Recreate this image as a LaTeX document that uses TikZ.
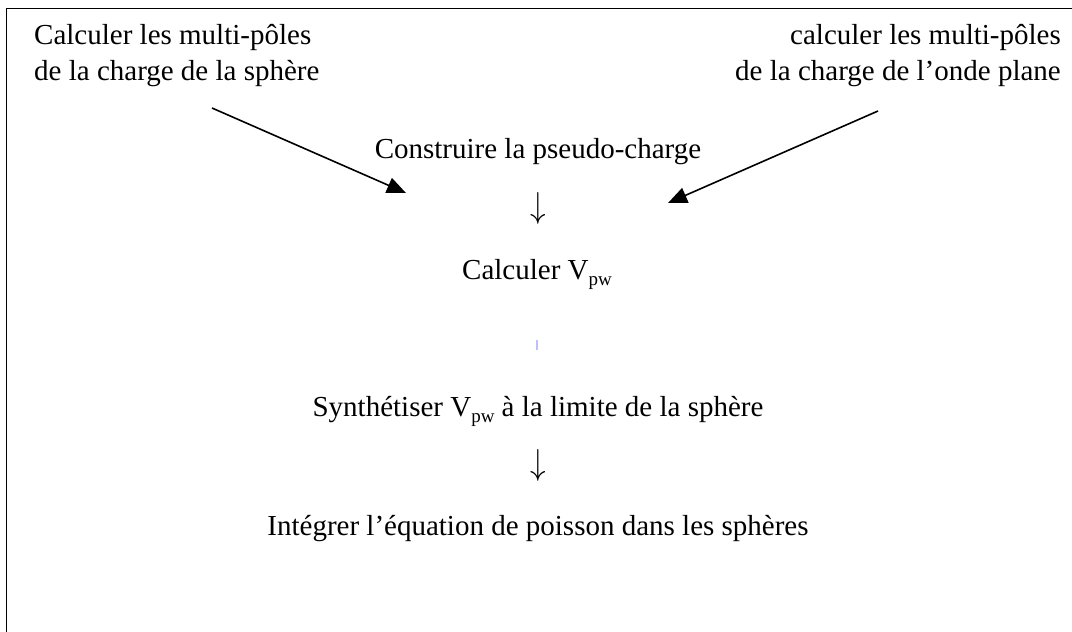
\documentclass[tikz,border=0pt]{standalone}
\usepackage{fontspec}
\setmainfont{Liberation Serif}
\usetikzlibrary{arrows.meta,positioning}
\newcommand{\Vpw}{V\raisebox{-0.22em}{\fontsize{19}{19}\selectfont pw}}
\newcommand{\flechebas}{\scalebox{1.25}[1.45]{$\downarrow$}}

\begin{document}
\begin{tikzpicture}[x=1pt,y=-1pt,
  txt/.style={font=\fontsize{29}{36}\selectfont, inner sep=0pt},
  bas/.style={font=\fontsize{29}{29}\selectfont, inner sep=0pt},
  fleche/.style={-{Triangle[length=19pt,width=16pt]}, line width=1.6pt},
  >=Stealth
]
\useasboundingbox (0,0) rectangle (1072,632);

% cadre
\draw[line width=1.5pt] (6.5,640) -- (6.5,8.5) -- (1080,8.5);

% haut : multi-poles
\node[txt, align=left, anchor=north west] (sphere) at (34,24) {Calculer les multi-pôles\\de la charge de la sphère};
\node[txt, align=right, anchor=north east] (onde) at (1061,24) {calculer les multi-pôles\\de la charge de l’onde plane};

% colonne centrale
\node[txt, anchor=base] (pseudo) at (538,158) {Construire la pseudo-charge};
\node[bas] (fl1) at (538,208) {\flechebas};
\node[txt, anchor=base] (vpw) at (537,279) {Calculer \Vpw};
\node[txt, anchor=base] (synth) at (538,416) {Synthétiser \Vpw{} à la limite de la sphère};
\node[bas] (fl2) at (538,465) {\flechebas};
\node[txt, anchor=base] (poisson) at (538,535) {Intégrer l’équation de poisson dans les sphères};

% petit trait entre V_pw et la synthese
\draw[blue!25, line width=2.5pt] (vpw.south) ++(0,50) coordinate (c1) -- ++(0,10) coordinate (c2);

% fleches obliques
\coordinate (pointeG) at (406,193);
\coordinate (pointeD) at (668,203);
\draw[fleche] (212,108) coordinate (departG) -- (pointeG);
\draw[fleche] (878,111) coordinate (departD) -- (pointeD);

\end{tikzpicture}
\end{document}
